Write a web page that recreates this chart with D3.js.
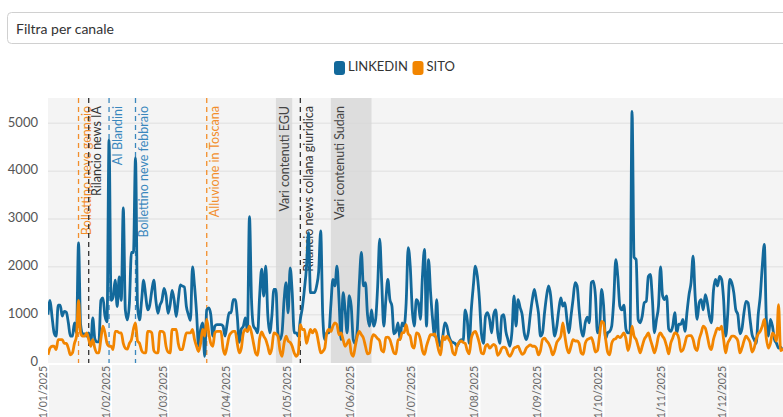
<!DOCTYPE html>
<html lang="it">
<head>
<meta charset="utf-8">
<script src="https://cdn.jsdelivr.net/npm/d3@7"></script>
<style>
    body { margin: 0; background: #fff; }
    svg { display: block; }
    text { font-family: Lato, "Open Sans", sans-serif; }
</style>
</head>
<body>
<script>
    // daily values, 1 Jan 2025 -> 31 Dec 2025
    const startDate = new Date(2025, 0, 1);
    const endDate = new Date(2025, 11, 31);

    const linkedin = [
        1000,1300,950,620,550,1200,1200,970,1070,1050,830,550,550,830,620,2500,800,600,600,550,620,350,930,500,430,430,1300,1350,970,850,4650,
        1300,1370,1720,1170,1790,1300,3230,1100,890,1240,2300,2300,4280,1170,890,1300,1720,1400,1100,1200,1500,1720,1300,1030,1200,1300,1550,1400,
        1030,1200,1510,1300,960,1300,1620,1600,1580,1170,1000,880,2000,1600,1040,350,690,830,130,1100,1140,1000,550,760,790,790,790,760,550,800,1040,
        1040,1316,1316,970,420,700,760,930,650,3050,1316,760,700,620,1400,1950,1390,2016,1000,620,970,1530,1530,600,480,620,1300,1670,1040,1980,
        1460,620,620,550,900,1150,1530,1980,2716,1460,1460,1460,1600,1900,2750,1000,480,620,620,1200,1740,1600,2016,1316,480,1460,1100,620,1400,1180,480,
        400,700,1670,2300,1600,1670,1000,760,1100,760,900,1600,2580,1670,760,1300,1740,1316,1180,600,650,830,480,830,760,1250,2400,2016,1100,760,
        1316,1250,900,1800,2366,760,2150,1460,900,550,1316,480,340,550,830,760,550,450,420,400,340,420,480,450,1100,900,400,1100,1600,2016,1800,
        1316,600,400,970,1040,900,620,1000,1100,620,400,970,1000,650,480,340,650,1390,760,1316,1150,1000,620,480,620,1000,1316,1530,1300,1040,550,
        620,1040,1390,1600,1400,900,550,750,1100,1350,1180,1250,900,620,970,1316,1670,1600,1100,690,550,830,950,830,1670,1700,1400,620,690,1530,
        1200,500,620,650,760,1300,2150,1800,1180,1100,1200,700,620,620,5250,2200,2150,900,830,970,1250,1280,1800,1840,1316,620,900,1180,2000,1400,1316,
        1390,700,650,760,1040,620,800,800,900,650,1050,1420,1670,2226,1400,900,1250,1316,1100,1420,1250,970,830,1500,1740,1600,1800,1740,1316,550,
        1000,1740,1670,1460,1100,1000,600,700,1040,1280,1250,900,580,480,400,1000,1390,2016,2470,900,550,900,760,480,400,300,320,270,270,300,300
    ];

    const sito = [
        160,300,340,340,270,480,480,480,400,400,300,160,200,400,550,1300,620,550,550,620,480,340,480,300,200,200,500,760,620,400,340,
        340,270,650,650,620,620,400,300,280,400,480,700,830,450,400,250,200,200,650,650,620,250,200,200,650,650,620,340,
        220,200,690,690,690,400,270,270,450,620,620,620,690,480,340,230,400,690,550,900,620,400,340,620,650,650,650,300,170,340,550,
        620,650,650,400,200,300,620,690,650,760,620,400,200,150,500,640,550,480,340,180,300,620,600,550,250,130,400,550,450,420,
        340,200,130,200,790,690,690,400,550,690,620,690,620,400,200,230,300,620,690,650,760,830,790,580,620,480,340,400,480,200,130,
        340,550,650,580,510,340,180,200,480,580,550,500,450,250,220,520,530,480,340,200,180,480,480,620,630,790,600,550,340,300,
        620,600,480,250,170,340,480,580,580,600,450,250,160,550,480,550,480,400,200,160,340,420,450,420,400,250,180,500,620,650,550,
        400,200,180,340,380,300,340,380,340,150,200,300,320,300,180,130,200,300,320,340,250,170,200,300,340,370,340,340,300,160,250,
        480,510,450,400,300,160,250,420,480,550,830,550,300,200,340,480,450,450,400,200,170,400,480,500,520,400,220,250,550,860,
        830,500,220,160,400,480,500,550,520,560,620,500,250,400,760,550,480,340,200,340,480,550,620,480,340,200,340,550,620,550,480,
        340,180,400,510,620,600,500,230,260,400,550,560,560,480,300,250,480,620,760,720,550,340,270,480,620,720,690,760,480,200,
        400,480,550,550,520,450,200,300,450,550,500,420,220,300,480,600,650,760,900,500,300,400,620,560,450,1210,250,270,300,280,250
    ];

    const yTicks = [0, 1000, 2000, 3000, 4000, 5000];

    const events = [
        {date: '2025-01-16', label: 'Bollettino neve gennaio', color: '#f28e2b'},
        {date: '2025-01-21', label: 'Rilancio news IA', color: '#333333'},
        {date: '2025-01-31', label: 'AI Blandini', color: '#3a87bd'},
        {date: '2025-02-13', label: 'Bollettino neve febbraio', color: '#3a87bd'},
        {date: '2025-03-20', label: 'Alluvione in Toscana', color: '#f28e2b'},
        {date: '2025-05-05', label: 'Rilancio news collana giuridica', color: '#333333'}
    ];

    const bands = [
        {from: '2025-04-23', to: '2025-05-01', label: 'Vari contenuti EGU'},
        {from: '2025-05-20', to: '2025-06-09', label: 'Vari contenuti Sudan'}
    ];

    const series = [
        {name: 'LINKEDIN', color: '#13699b', values: linkedin},
        {name: 'SITO', color: '#f28500', values: sito}
    ];

    const W = 783, H = 417;
    const plotLeft = 48, plotTop = 98, plotBottom = 363;
    const parse = d3.timeParse('%Y-%m-%d');

    let svg = d3.select('body').append('svg')
        .attr('width', W).attr('height', H);

    // filter box
    svg.append('rect')
        .attr('x', 7.5).attr('y', 12.5)
        .attr('width', W + 20).attr('height', 31).attr('rx', 4)
        .attr('fill', '#fff').attr('stroke', '#d0d0d0');
    svg.append('text')
        .attr('x', 16).attr('y', 33.5)
        .attr('font-size', 14).attr('fill', '#333')
        .text('Filtra per canale');

    // legend
    let legend = svg.append('g');
    let legendX = [334, 412.5];
    series.forEach(function (s, i) {
        legend.append('rect')
            .attr('x', legendX[i]).attr('y', 61)
            .attr('width', 11).attr('height', 14).attr('rx', 3)
            .attr('fill', s.color);
        legend.append('text')
            .attr('x', legendX[i] + 14).attr('y', 68)
            .attr('dominant-baseline', 'middle')
            .attr('font-size', 13).attr('fill', '#333')
            .text(s.name);
    });

    let x = d3.scaleTime().domain([startDate, endDate]).range([plotLeft, plotLeft + 364 * 2.035]);
    let y = d3.scaleLinear().domain([0, 5530]).range([362.5, plotTop]);

    // panel background (also behind the date labels)
    svg.append('rect')
        .attr('x', plotLeft).attr('y', plotTop)
        .attr('width', W - plotLeft).attr('height', H - plotTop)
        .attr('fill', '#f4f4f4');
    svg.append('line')
        .attr('x1', plotLeft).attr('x2', W).attr('y1', plotBottom + 1).attr('y2', plotBottom + 1)
        .attr('stroke', '#fff').attr('stroke-width', 2);

    // grid
    svg.append('g').selectAll('line')
        .data(yTicks.filter(d => d > 0))
        .enter().append('line')
        .attr('x1', plotLeft).attr('x2', W)
        .attr('y1', d => y(d)).attr('y2', d => y(d))
        .attr('stroke', '#e6e6e6').attr('stroke-width', 1.5);

    svg.append('g').selectAll('text')
        .data(yTicks)
        .enter().append('text')
        .attr('x', 38).attr('y', d => y(d))
        .attr('text-anchor', 'end').attr('dominant-baseline', 'middle')
        .attr('font-size', 13).attr('fill', '#555')
        .text(d => d);

    // x axis: month ticks
    let months = d3.timeMonth.range(startDate, endDate);
    let fmt = d3.timeFormat('%d/%m/%Y');
    svg.append('g').selectAll('line')
        .data(months)
        .enter().append('line')
        .attr('x1', d => x(d)).attr('x2', d => x(d))
        .attr('y1', plotBottom + 1).attr('y2', H)
        .attr('stroke', '#fff').attr('stroke-width', 2);
    svg.append('g').selectAll('text')
        .data(months)
        .enter().append('text')
        .attr('transform', d => 'translate(' + (x(d) - 1.5) + ',366) rotate(-90)')
        .attr('text-anchor', 'end')
        .attr('font-size', 10.5).attr('fill', '#666')
        .text(d => fmt(d));

    let defs = svg.append('defs');
    defs.append('clipPath').attr('id', 'plot')
        .append('rect').attr('x', plotLeft).attr('y', plotTop - 2)
        .attr('width', W - plotLeft).attr('height', plotBottom - plotTop + 2);

    let plot = svg.append('g').attr('clip-path', 'url(#plot)');

    // highlighted periods
    let bandG = plot.append('g');
    bands.forEach(function (b) {
        let x0 = x(parse(b.from)), x1 = x(parse(b.to));
        bandG.append('rect')
            .attr('x', x0).attr('y', plotTop)
            .attr('width', x1 - x0).attr('height', plotBottom - plotTop)
            .attr('fill', '#d6d6d6').attr('opacity', 0.75);
        bandG.append('text')
            .attr('transform', 'translate(' + (x0 + 13) + ',106) rotate(-90)')
            .attr('text-anchor', 'end')
            .attr('font-size', 12.5).attr('fill', '#444')
            .text(b.label);
    });

    // event markers
    let evG = plot.append('g');
    events.forEach(function (e) {
        let ex = x(parse(e.date));
        evG.append('line')
            .attr('x1', ex).attr('x2', ex).attr('y1', plotTop).attr('y2', plotBottom)
            .attr('stroke', e.color).attr('stroke-width', 1.3)
            .attr('stroke-dasharray', '5,4');
        evG.append('text')
            .attr('transform', 'translate(' + (ex + 12.5) + ',106) rotate(-90)')
            .attr('text-anchor', 'end')
            .attr('font-size', 12.5).attr('fill', e.color)
            .text(e.label);
    });

    // series lines
    let line = d3.line()
        .x((d, i) => x(d3.timeDay.offset(startDate, i)))
        .y(d => y(d))
        .curve(d3.curveMonotoneX);

    plot.append('g').selectAll('path')
        .data(series)
        .enter().append('path')
        .attr('d', d => line(d.values))
        .attr('fill', 'none')
        .attr('stroke', d => d.color)
        .attr('stroke-width', 2.8)
        .attr('stroke-linejoin', 'round');
</script>
</body>
</html>
